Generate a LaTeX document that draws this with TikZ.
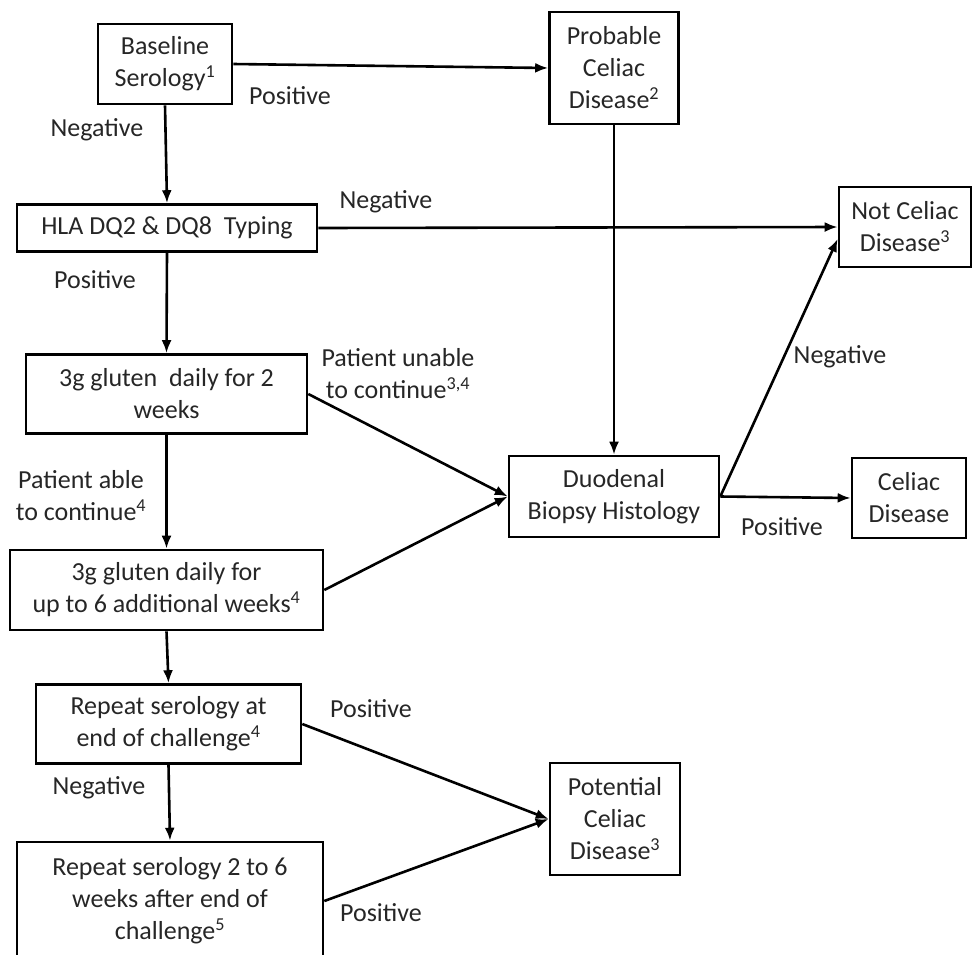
\documentclass[tikz,border=0pt]{standalone}
\usepackage{fontspec}
\setmainfont{Carlito}
\usetikzlibrary{arrows.meta}

\tikzset{
box/.style={draw, line width=2.6pt, align=center, inner sep=0pt, text=black!85,
  font=\fontsize{26}{32}\selectfont},
lbl/.style={align=center, inner sep=0pt, text=black!85, font=\fontsize{26}{32}\selectfont},
arr/.style={line width=2.6pt, -{Latex[length=13pt,width=10pt]}},
ln/.style={line width=2.6pt}
}

\begin{document}
\begin{tikzpicture}[x=1pt, y=-1pt]
\useasboundingbox (0,0) rectangle (972,954);

\node[box, minimum width=134pt, minimum height=80pt] (base) at (165,64) {Baseline\\Serology\textsuperscript{1}};
\node[box, minimum width=129pt, minimum height=112pt] (prob) at (614,68) {Probable\\Celiac\\Disease\textsuperscript{2}};
\node[box, minimum width=300pt, minimum height=47pt] (hla) at (167,228) {HLA DQ2 \& DQ8\ \ Typing};
\node[box, minimum width=132pt, minimum height=80pt] (notcd) at (905,227) {Not Celiac\\Disease\textsuperscript{3}};
\node[box, minimum width=281pt, minimum height=79pt] (gl2) at (166.5,394) {3g gluten\ \ daily for 2\\weeks};
\node[box, minimum width=210pt, minimum height=81pt] (duo) at (614,496.5) {Duodenal\\Biopsy Histology};
\node[box, minimum width=114pt, minimum height=80pt] (cd) at (909,498) {Celiac\\Disease};
\node[box, minimum width=313pt, minimum height=80pt] (gl6) at (166.5,590) {3g gluten daily for\\up to 6 additional weeks\textsuperscript{4}};
\node[box, minimum width=265pt, minimum height=79pt] (rep1) at (168.5,724) {Repeat serology at\\end of challenge\textsuperscript{4}};
\node[box, minimum width=130pt, minimum height=112pt] (pot) at (615,819) {Potential\\Celiac\\Disease\textsuperscript{3}};
\node[box, minimum width=306pt, minimum height=118pt] (rep2) at (170,901) {Repeat serology 2 to 6\\weeks after end of\\challenge\textsuperscript{5}};

\node[lbl] (lpos1) at (290,96) {Positive};
\node[lbl] (lneg1) at (97,130) {Negative};
\node[lbl] (lneg2) at (386,202) {Negative};
\node[lbl] (lpos2) at (95,280) {Positive};
\node[lbl] (lunable) at (398,374) {Patient unable\\to continue\textsuperscript{3,4}};
\node[lbl] (lable) at (81,496) {Patient able\\to continue\textsuperscript{4}};
\node[lbl] (lneg3) at (840,357) {Negative};
\node[lbl] (lpos3) at (782,527) {Positive};
\node[lbl] (lpos4) at (371,709) {Positive};
\node[lbl] (lneg4) at (99,788) {Negative};
\node[lbl] (lpos5) at (381,913) {Positive};

\draw[arr] (base.east) -- (prob.west);
\draw[arr] (base.south) -- (hla.north);
\draw[arr] (hla.east) -- (notcd.west);
\draw[arr] (prob.south) -- (duo.north);
\draw[arr] (hla.south) -- (gl2.north);
\draw[arr] (gl2.east) -- (duo.west);
\draw[arr] (gl6.east) -- (duo.west);
\draw[arr] (gl2.south) -- (gl6.north);
\draw[arr] (duo.east) -- (notcd.190);
\draw[arr] (duo.east) -- (cd.west);
\draw[arr] (gl6.south) -- (rep1.north);
\draw[arr] (rep1.east) -- (pot.west);
\draw[arr] (rep2.east) -- (pot.west);
\draw[arr] (rep1.south) -- (rep2.north);

\end{tikzpicture}
\end{document}
